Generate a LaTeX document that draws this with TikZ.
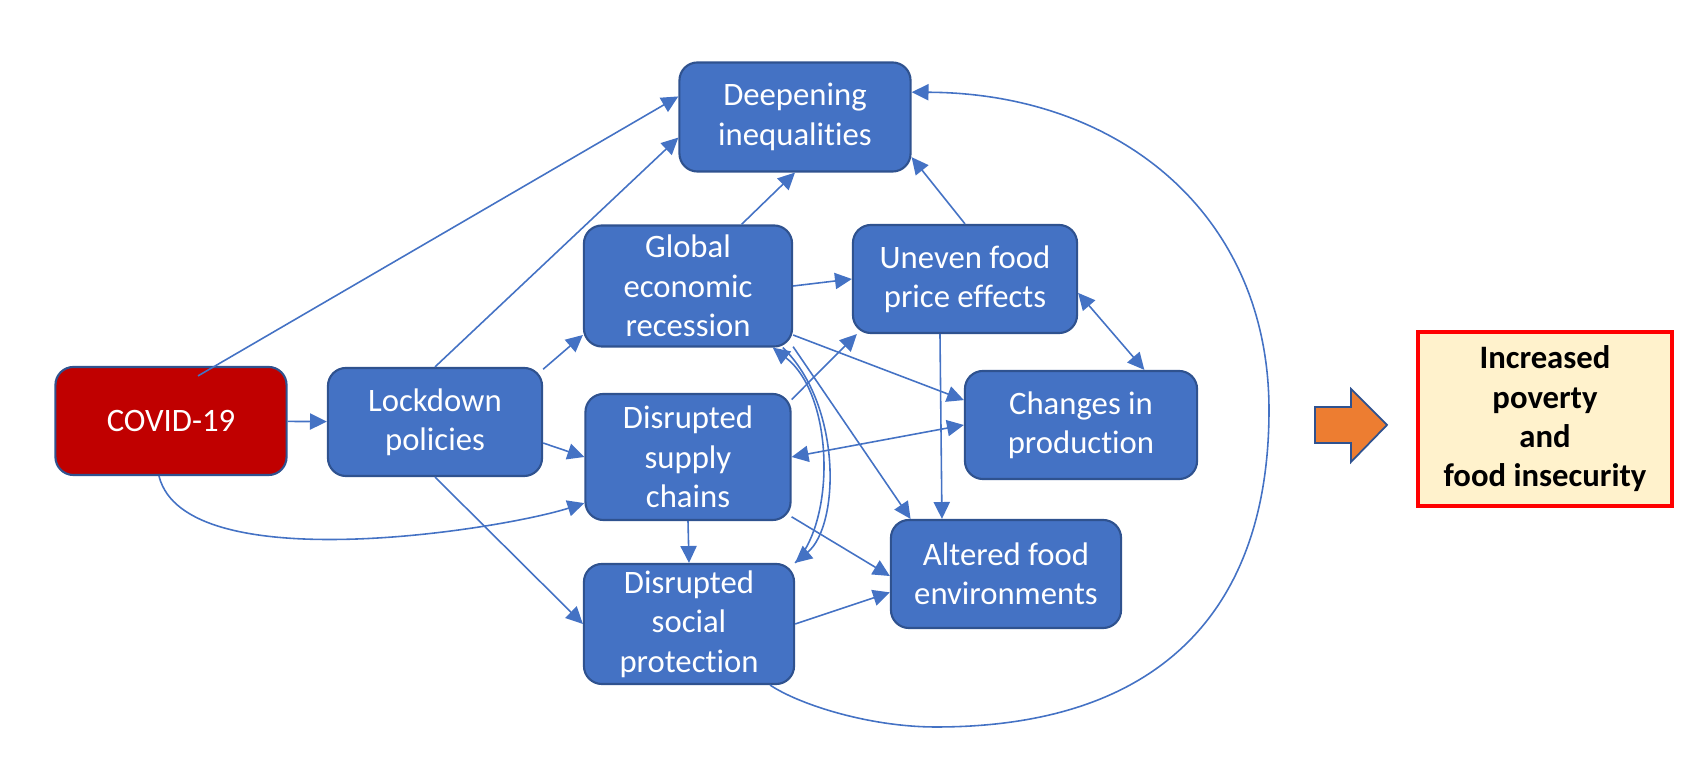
\documentclass[tikz,border=0pt]{standalone}
\usepackage{fontspec}
\setmainfont{Carlito}[Ligatures={NoCommon}]
\usetikzlibrary{arrows.meta}

\definecolor{boxblue}{HTML}{4472C4}
\definecolor{boxline}{HTML}{2F528F}
\definecolor{covidred}{HTML}{C00000}
\definecolor{arroworange}{HTML}{ED7D31}
\definecolor{resultfill}{HTML}{FFF2CC}
\definecolor{resultline}{HTML}{FF0000}

\tikzset{
  box/.style={draw=boxline, fill=boxblue, line width=0.6pt, rounded corners=0.18cm,
    text=white, align=center, inner sep=0pt,
    font=\fontsize{9.3pt}{11.2pt}\selectfont},
  link/.style={draw=boxblue, line width=0.45pt, -{Triangle[length=4.8pt,width=4.6pt]}},
  both/.style={draw=boxblue, line width=0.45pt, {Triangle[length=4.8pt,width=4.6pt]}-{Triangle[length=4.8pt,width=4.6pt]}}
}

\begin{document}
\begin{tikzpicture}[x=0.01cm, y=-0.01cm]
  \useasboundingbox (0,0) rectangle (1708,783);

  % boxes
  \node[box, fill=covidred, minimum width=2.31cm, minimum height=1.08cm] (covid) at (171,421) {COVID-19};
  \node[box, minimum width=2.14cm, minimum height=1.08cm] (lockdown) at (435,422) {Lockdown\\policies};
  \node[box, minimum width=2.31cm, minimum height=1.09cm] (deep) at (795,117) {Deepening\\inequalities};
  \node[box, minimum width=2.08cm, minimum height=1.21cm] (global) at (688,286) {Global\\economic\\recession};
  \node[box, minimum width=2.24cm, minimum height=1.08cm] (uneven) at (965,279) {Uneven food\\price effects};
  \node[box, minimum width=2.32cm, minimum height=1.08cm] (changes) at (1081,425) {Changes in\\production};
  \node[box, minimum width=2.05cm, minimum height=1.26cm] (supply) at (688,457) {Disrupted\\supply\\chains};
  \node[box, minimum width=2.10cm, minimum height=1.20cm] (social) at (689,624) {Disrupted\\social\\protection};
  \node[box, minimum width=2.30cm, minimum height=1.08cm] (altered) at (1006,574) {Altered food\\environments};

  % result
  \node[draw=resultline, fill=resultfill, line width=1pt, minimum width=2.54cm, minimum height=1.74cm,
    align=center, font=\fontsize{9.3pt}{11.2pt}\selectfont\bfseries] (result) at (1545,419)
    {Increased\\poverty\\and\\food insecurity};
  \filldraw[fill=arroworange, draw=boxline, line width=0.5pt]
    (1315,407) -- (1351,407) -- (1351,389) -- (1387,425) -- (1351,462) -- (1351,443) -- (1315,443) -- cycle;

  % arrows
  \draw[link] (covid) -- (lockdown);
  \draw[link] ([xshift=0.27cm,yshift=-0.1cm]covid.north) -- (deep.170);
  \draw[link] ([xshift=-0.12cm]covid.south) .. controls (185,580) and (500,530) .. (supply.204);
  \draw[link] (lockdown.north) -- (deep.190);
  \draw[link] (lockdown.26) -- (global.205);
  \draw[link] (lockdown.-11) -- (supply.west);
  \draw[link] (lockdown.south) -- (social.west);
  \draw[link] (global.49) -- (deep.south);
  \draw[link] (global.east) -- (uneven.west);
  \draw[link] (global.-25) -- (changes.168);
  \draw[link] (global.-30) -- (altered.150);
  \draw[link] (supply.29) -- (uneven.207);
  \draw[link] (uneven.north) -- (deep.-19);
  \draw[both] (uneven.-7) -- (changes.41);
  \draw[link] ([xshift=-0.25cm]uneven.south) -- ([xshift=-0.64cm]altered.north);
  \draw[both] (supply.east) -- (changes.west);
  \draw[link] (supply.south) -- (social.north);
  \draw[link] (supply.-30) -- (altered.181);
  \draw[link] (social.east) -- (altered.189);
  \draw[link] (social.north east) .. controls (836,520) and (834,395) .. (global.-36);
  \draw[link] (global.-33) .. controls (842,405) and (840,525) .. (social.north east);
  \draw[link] (social.-37) .. controls (800,705) and (870,727) .. (936,727)
    .. controls (1160,727) and (1269,610) .. (1269,410)
    .. controls (1269,215) and (1120,93) .. (deep.12);
\end{tikzpicture}
\end{document}
